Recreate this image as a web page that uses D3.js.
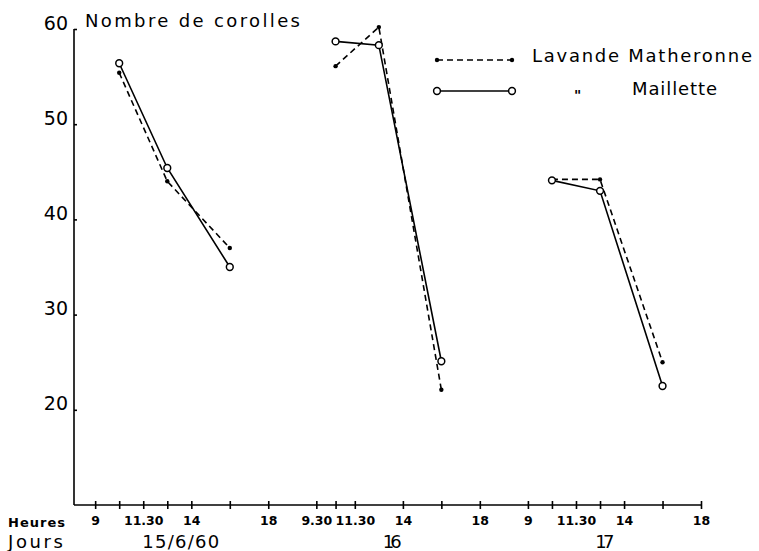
<!DOCTYPE html>
<html>
<head>
<meta charset="utf-8">
<script src="https://cdnjs.cloudflare.com/ajax/libs/d3/7.8.5/d3.min.js"></script>
<style>
  body { margin: 0; background: #fff; }
  svg { display: block; font-family: "DejaVu Sans", sans-serif; }
  .axis path, .axis line { stroke: #000; stroke-width: 1.6; }
  .axis text { fill: #000; }
</style>
</head>
<body>
<div class="svg-wrapper"></div>
<script>
// three sampling days, hours of the counts
var days 		= ["15/6/60", "16", "17"];
var dayShift 	= [-9, 2, 13.5];   // shift of each day on the compressed hour axis (nights shortened)
var hours 		= [[10.25, 12.75, 16], [10.5, 12.75, 16], [10.25, 12.75, 16]];

var lavande 	= [[55.4, 44.0, 37.0], [56.1, 60.2, 22.1], [44.2, 44.2, 25.0]];
var maillette 	= [[56.4, 45.4, 35.0], [58.7, 58.3, 25.1], [44.1, 43.0, 22.5]];

var majorHours 	= [[9, 11.5, 14, 18], [9.5, 11.5, 14, 18], [9, 11.5, 14, 18]];
var majorLabels = [["9", "11.30", "14", "18"], ["9.30", "11.30", "14", "18"], ["9", "11.30", "14", "18"]];
var minorHours 	= [[10.25, 12.75, 16], [10.5, 16], [10.25, 12.75, 16]];

var yTicks 		= [20, 30, 40, 50, 60];

var width = 759, height = 551;

var svg = d3.select(".svg-wrapper").append("svg")
	.attr("width", width)
	.attr("height", height);

var xScale = d3.scaleLinear().domain([-1.1, 31.5]).range([74, 701]),
    yScale = d3.scaleLinear().domain([10, 60]).range([505, 29]);

function pos(day, h) { return h + dayShift[day]; }

// x axis: one line, ticks built from the hour arrays
var majors = [], minors = [];
days.forEach(function(d, i) {
	majorHours[i].forEach(function(h, j) {
		majors.push({ x: pos(i, h), label: majorLabels[i][j] });
	});
	minorHours[i].forEach(function(h) { minors.push(pos(i, h)); });
});

var g_xAxis = svg.append("g")
	.attr("class", "axis axis--x")
	.attr("transform", "translate(0,505)")
	.call(d3.axisBottom(xScale)
		.tickValues(majors.map(function(d) { return d.x; }).concat(minors))
		.tickSizeInner(4)
		.tickSizeOuter(0)
		.tickFormat(function(v) {
			var m = majors.filter(function(d) { return d.x == v; })[0];
			return m ? m.label : "";
		}));

g_xAxis.attr("font-size", null).attr("font-family", null);
g_xAxis.selectAll(".tick line").attr("y1", -4);
g_xAxis.selectAll(".tick text")
	.attr("y", 11)
	.attr("dy", "0.71em")
	.attr("font-size", 12.5)
	.attr("font-weight", "bold");
g_xAxis.select(".domain").attr("d", "M" + xScale.range()[0] + ",0H" + xScale.range()[1]);

var g_yAxis = svg.append("g")
	.attr("class", "axis axis--y")
	.attr("transform", "translate(74,0)")
	.call(d3.axisLeft(yScale)
		.tickValues(yTicks)
		.tickSizeInner(3)
		.tickSizeOuter(0)
		.tickFormat(d3.format("d")));

g_yAxis.attr("font-size", null).attr("font-family", null);
g_yAxis.selectAll(".tick line").attr("x2", 3);
g_yAxis.selectAll(".tick text")
	.attr("x", -6)
	.attr("dy", 0)
	.attr("font-size", 19);
g_yAxis.select(".domain").attr("d", "M0," + yScale(60) + "V" + yScale(10));

// titles
svg.append("text")
	.attr("x", 85).attr("y", 27)
	.attr("font-size", 18)
	.attr("textLength", 215)
	.text("Nombre de corolles");

svg.append("text")
	.attr("x", 8).attr("y", 527)
	.attr("font-size", 13).attr("font-weight", "bold")
	.attr("textLength", 57)
	.text("Heures");

svg.append("text")
	.attr("x", 8).attr("y", 548)
	.attr("font-size", 18)
	.attr("textLength", 55)
	.text("Jours");

var dayCenter = [13.45, 13.45, 13.0];
var dayWidth  = [77, 19, 19];
days.forEach(function(d, i) {
	svg.append("text")
		.attr("x", xScale(pos(i, dayCenter[i])) - dayWidth[i] / 2)
		.attr("y", 548)
		.attr("font-size", 18)
		.attr("textLength", dayWidth[i])
		.text(d);
});

// series
var series = [
	{ name: "Lavande Matheronne", values: lavande, dash: "6,4", mark: "dot" },
	{ name: "Maillette", values: maillette, dash: null, mark: "circle" }
];

var line = d3.line()
	.x(function(d) { return xScale(d.x); })
	.y(function(d) { return yScale(d.y); });

series.forEach(function(s) {
	s.values.forEach(function(vals, i) {
		var pts = vals.map(function(v, j) { return { x: pos(i, hours[i][j]), y: v }; });
		svg.append("path")
			.attr("d", line(pts))
			.attr("fill", "none")
			.attr("stroke", "#000")
			.attr("stroke-width", 1.6)
			.attr("stroke-dasharray", s.dash);
		drawMarks(pts, s.mark);
	});
});

function drawMarks(pts, mark) {
	svg.append("g").selectAll("circle")
		.data(pts)
		.enter().append("circle")
		.attr("cx", function(d) { return xScale(d.x); })
		.attr("cy", function(d) { return yScale(d.y); })
		.attr("r", mark == "dot" ? 2.2 : 3.4)
		.attr("fill", mark == "dot" ? "#000" : "#fff")
		.attr("stroke", "#000")
		.attr("stroke-width", mark == "dot" ? 0 : 1.5);
}

// legend
var legend = svg.append("g").attr("class", "legend");
var legendRows = [60, 91];
series.forEach(function(s, i) {
	var y = legendRows[i];
	legend.append("line")
		.attr("x1", 437).attr("x2", 512)
		.attr("y1", y).attr("y2", y)
		.attr("stroke", "#000")
		.attr("stroke-width", 1.5)
		.attr("stroke-dasharray", s.dash);
	[437, 512].forEach(function(x) {
		legend.append("circle")
			.attr("cx", x).attr("cy", y)
			.attr("r", s.mark == "dot" ? 2.2 : 3.4)
			.attr("fill", s.mark == "dot" ? "#000" : "#fff")
			.attr("stroke", "#000")
			.attr("stroke-width", s.mark == "dot" ? 0 : 1.5);
	});
});
legend.append("text")
	.attr("x", 532).attr("y", 62)
	.attr("font-size", 18)
	.attr("textLength", 220)
	.text("Lavande Matheronne");
legend.append("text")
	.attr("x", 574).attr("y", 100)
	.attr("font-size", 14).attr("font-weight", "bold")
	.text("\"");
legend.append("text")
	.attr("x", 632).attr("y", 95)
	.attr("font-size", 18)
	.attr("textLength", 85)
	.text("Maillette");
</script>
</body>
</html>
